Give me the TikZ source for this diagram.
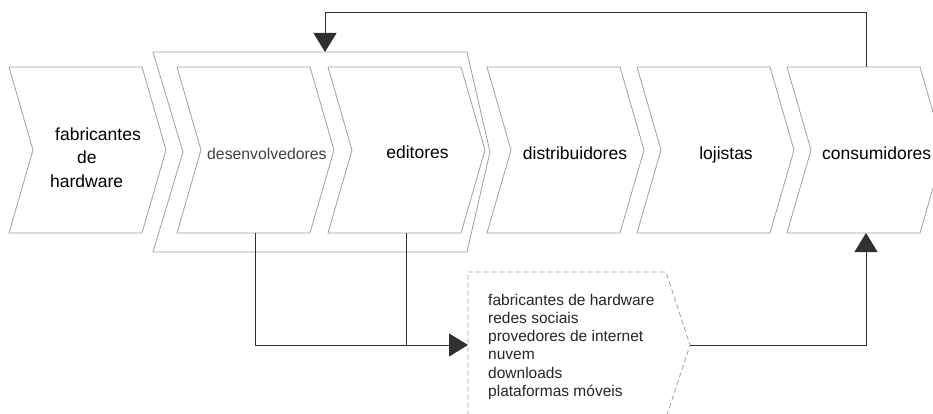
\documentclass[tikz,border=0pt]{standalone}
\usepackage{fontspec}
\setmainfont{Liberation Sans}
\usetikzlibrary{arrows.meta,calc}
\definecolor{chevgray}{HTML}{A0A0A0}
\definecolor{linegray}{HTML}{303030}
\newcommand\chevronpath[1]{\draw[chev] (#1.north west) -- (#1.north east) -- ($(#1.east)+(24,0)$) -- (#1.south east) -- (#1.south west) -- ($(#1.west)+(24,0)$) -- cycle;}
\begin{document}
\begin{tikzpicture}[x=1pt,y=-1pt,
  shapebox/.style={minimum width=133pt, minimum height=166pt, inner sep=0pt, outer sep=0pt},
  chev/.style={draw=chevgray, line width=0.8pt, line join=miter},
  lbl/.style={font=\fontsize{17.5}{21}\selectfont, anchor=base, inner sep=0pt, text=black},
  conn/.style={draw=linegray, line width=1pt},
  tipdown/.style={-{Triangle[length=19pt,width=23pt]}}
]
\useasboundingbox (0,0) rectangle (933,414);
\clip (0,0) rectangle (933,414);
\fill[white] (0,0) rectangle (933,414);

% container
\node[inner sep=0pt, outer sep=0pt, minimum width=314pt, minimum height=200pt] (cont) at (310,152) {};
\draw[chev] (cont.north west) -- (cont.north east) -- ($(cont.east)+(23,0)$) -- (cont.south east) -- (cont.south west) -- ($(cont.west)+(30,0)$) -- cycle;

% chevrons
\node[shapebox] (fab) at (75.5,150) {};
\node[shapebox] (dev) at (243.5,150) {};
\node[shapebox] (edi) at (394.5,150) {};
\node[shapebox] (dis) at (553.5,150) {};
\node[shapebox] (loj) at (703.5,150) {};
\node[shapebox] (con) at (853.5,150) {};
\chevronpath{fab}
\chevronpath{dev}
\chevronpath{edi}
\chevronpath{dis}
\chevronpath{loj}
\chevronpath{con}

% labels
\node[lbl, anchor=base west] (fabA) at (55,141) {fabricantes};
\node[lbl, anchor=base west] (fabB) at (77,164) {de};
\node[lbl, anchor=base west] (fabC) at (50,187) {hardware};
\node[lbl, anchor=base west, font=\fontsize{15.8}{19}\selectfont, text=black!75] (devL) at (207,160) {desenvolvedores};
\node[lbl] (ediL) at (417.5,159) {editores};
\node[lbl] (disL) at (575,160) {distribuidores};
\node[lbl] (lojL) at (726,160) {lojistas};
\node[lbl, anchor=base west] (conL) at (822,160) {consumidores};

% dashed supplier box
\node[inner sep=0pt, outer sep=0pt, minimum width=198pt, minimum height=146pt] (sup) at (567,345) {};
\draw[draw=chevgray, line width=0.8pt, dash pattern=on 5pt off 3pt] (sup.north west) -- (sup.north east) -- ($(sup.east)+(24,0)$) -- (sup.south east) -- (sup.south west) -- cycle;
\node[anchor=base west, inner sep=0pt, font=\fontsize{15.5}{18.3}\selectfont, text=black!85] (lst) at (488,305)
  {\begin{tabular}[t]{@{}l@{}}fabricantes de hardware\\ redes sociais\\ provedores de internet\\ nuvem\\ downloads\\ plataformas móveis\end{tabular}};

% connectors
\coordinate (devout) at ($(dev.south)+(11.5,0)$);
\coordinate (ediout) at ($(edi.south)+(11.5,0)$);
\coordinate (supout) at ($(sup.east)+(24,0)$);
\coordinate (conin) at ($(con.south)+(12.5,0)$);
\coordinate (conout) at ($(con.north)+(12.5,0)$);
\coordinate (contop) at ($(cont.north)+(15,0)$);
\draw[conn, tipdown] (devout) |- (sup.west);
\draw[conn] (ediout) -- (ediout |- sup.west);
\draw[conn, tipdown] (supout) -| (conin);
\draw[conn, tipdown] (conout) -- ++(0,-54) -| (contop);
\end{tikzpicture}
\end{document}
